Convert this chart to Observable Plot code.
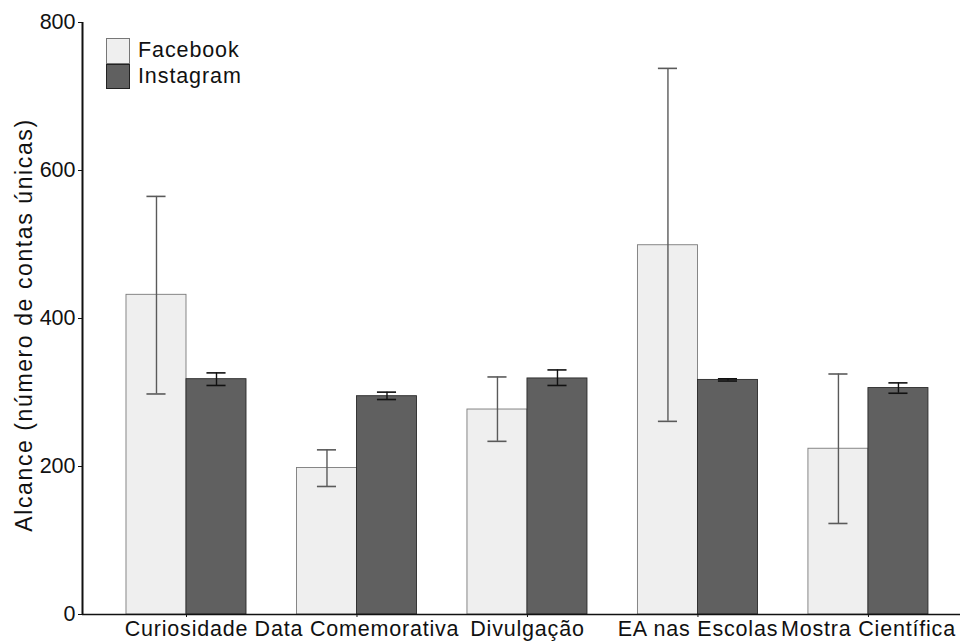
<!DOCTYPE html>
<html>
<head>
<meta charset="utf-8">
<script src="https://cdn.jsdelivr.net/npm/d3@7"></script>
<script src="https://cdn.jsdelivr.net/npm/@observablehq/plot@0.6"></script>
<style>
  html, body { margin: 0; padding: 0; background: #fff; }
  #wrap { position: relative; width: 960px; height: 642px; font-family: "Liberation Sans", Arial, sans-serif; }
  #legend { position: absolute; left: 106px; top: 38px; font-size: 21.5px; letter-spacing: 0.9px; color: #111; }
  .item { display: flex; align-items: center; height: 25.5px; }
  .sw { width: 24px; height: 25.5px; box-sizing: border-box; margin-right: 8px; }
</style>
</head>
<body>
<div id="wrap"><div id="legend"></div></div>
<script>
const categories = ["Curiosidade", "Data Comemorativa", "Divulgação", "EA nas Escolas", "Mostra Científica"];
const series = ["Facebook", "Instagram"];
const facebookMean = [432, 198, 277, 499, 224];
const facebookLow  = [298, 173, 234, 261, 123];
const facebookHigh = [565, 222.5, 321, 738, 325];
const instagramMean = [318, 295, 319, 317, 306];
const instagramLow  = [309.5, 290.5, 309.5, 315.5, 299];
const instagramHigh = [326.5, 300.5, 330.5, 318.5, 313];
const yTicks = [0, 200, 400, 600, 800];

const fills = {Facebook: "#efefef", Instagram: "#606060"};
const strokes = {Facebook: "#7a7a7a", Instagram: "#2a2a2a"};
const errColor = {Facebook: "#5a5a5a", Instagram: "#111111"};

const w = 0.352;   // bar width in category steps
const cap = 0.056; // half cap width

const data = [];
categories.forEach((c, i) => {
  data.push({cat: c, i, s: "Facebook", v: facebookMean[i], lo: facebookLow[i], hi: facebookHigh[i],
             x1: i - w, x2: i, xc: i - w / 2});
  data.push({cat: c, i, s: "Instagram", v: instagramMean[i], lo: instagramLow[i], hi: instagramHigh[i],
             x1: i, x2: i + w, xc: i + w / 2});
});

const chart = Plot.plot({
  width: 960,
  height: 642,
  marginLeft: 82,
  marginRight: 0,
  marginTop: 22,
  marginBottom: 28,
  style: {fontFamily: "Liberation Sans, Arial, sans-serif", fontSize: "21px", color: "#111", background: "transparent"},
  x: {domain: [-0.61, 4.54], label: null},
  y: {domain: [0, 800], label: null},
  marks: [
    Plot.rectY(data, {x1: "x1", x2: "x2", y: "v", fill: d => fills[d.s], stroke: d => strokes[d.s], strokeWidth: 0.9}),
    Plot.ruleX(data, {x: "xc", y1: "lo", y2: "hi", stroke: d => errColor[d.s], strokeWidth: 1.4}),
    Plot.ruleY(data, {y: "hi", x1: d => d.xc - cap, x2: d => d.xc + cap, stroke: d => errColor[d.s], strokeWidth: 1.6}),
    Plot.ruleY(data, {y: "lo", x1: d => d.xc - cap, x2: d => d.xc + cap, stroke: d => errColor[d.s], strokeWidth: 1.6}),
    Plot.axisY({ticks: yTicks, tickSize: 4, tickPadding: 3, fontSize: 21.5, label: null}),
    Plot.axisX({ticks: categories.map((_, i) => i), tickFormat: i => categories[i], tickSize: 3, tickPadding: 3, fontSize: 21.5, label: null}),
    Plot.ruleY([0], {stroke: "#111", strokeWidth: 1.3}),
    Plot.ruleX([-0.61], {y1: 0, y2: 800, stroke: "#111", strokeWidth: 2})
  ]
});

const wrap = document.getElementById("wrap");
wrap.insertBefore(chart, wrap.firstChild);

const svg = d3.select(chart);
svg.selectAll('g[aria-label="x-axis tick label"] text').attr("letter-spacing", "0.8px");

// Y-axis title
const yScale = chart.scale("y");
const mid = (yScale.apply(0) + yScale.apply(800)) / 2 + 7;
svg.append("text")
  .attr("transform", `translate(26,${mid}) rotate(-90)`)
  .attr("text-anchor", "middle")
  .attr("dominant-baseline", "middle")
  .attr("font-size", 23)
  .attr("letter-spacing", "1.6px")
  .attr("fill", "#111")
  .text("Alcance (número de contas únicas)");

// Legend
const legend = d3.select("#legend");
series.forEach(s => {
  const it = legend.append("div").attr("class", "item");
  it.append("div").attr("class", "sw")
    .style("background", fills[s]).style("border", `1px solid ${s === "Facebook" ? "#777" : "#222"}`);
  it.append("span").text(s);
});
</script>
</body>
</html>
